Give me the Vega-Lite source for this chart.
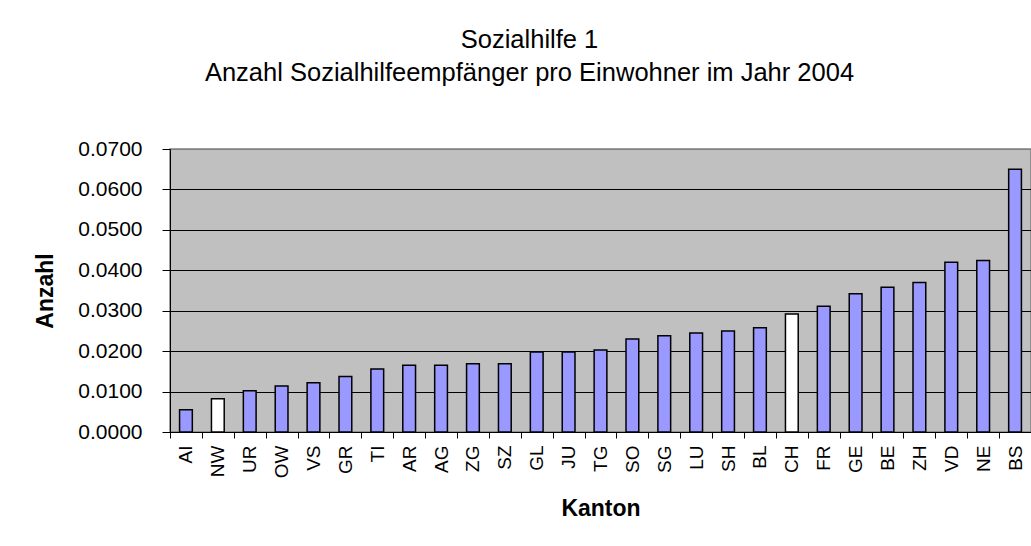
{
  "$schema": "https://vega.github.io/schema/vega-lite/v6.json",
  "autosize": {"type": "none"},
  "padding": {"left": 170, "top": 149, "right": 0, "bottom": 114},
  "width": 861,
  "height": 283,
  "background": "white",
  "title": {
    "text": ["Sozialhilfe 1", "Anzahl Sozialhilfeempfänger pro Einwohner im Jahr 2004"],
    "anchor": "middle",
    "frame": "group",
    "dx": -71,
    "offset": 52,
    "fontSize": 25.5,
    "fontWeight": "normal",
    "lineHeight": 33,
    "color": "#000000",
    "font": "Liberation Sans"
  },
  "data": {
    "values": [
      {"kanton": "AI", "anzahl": 0.0055, "gruppe": "Kanton"},
      {"kanton": "NW", "anzahl": 0.0082, "gruppe": "weiss"},
      {"kanton": "UR", "anzahl": 0.0102, "gruppe": "Kanton"},
      {"kanton": "OW", "anzahl": 0.0114, "gruppe": "Kanton"},
      {"kanton": "VS", "anzahl": 0.0122, "gruppe": "Kanton"},
      {"kanton": "GR", "anzahl": 0.0137, "gruppe": "Kanton"},
      {"kanton": "TI", "anzahl": 0.0156, "gruppe": "Kanton"},
      {"kanton": "AR", "anzahl": 0.0165, "gruppe": "Kanton"},
      {"kanton": "AG", "anzahl": 0.0165, "gruppe": "Kanton"},
      {"kanton": "ZG", "anzahl": 0.0169, "gruppe": "Kanton"},
      {"kanton": "SZ", "anzahl": 0.0169, "gruppe": "Kanton"},
      {"kanton": "GL", "anzahl": 0.0198, "gruppe": "Kanton"},
      {"kanton": "JU", "anzahl": 0.0198, "gruppe": "Kanton"},
      {"kanton": "TG", "anzahl": 0.0203, "gruppe": "Kanton"},
      {"kanton": "SO", "anzahl": 0.0230, "gruppe": "Kanton"},
      {"kanton": "SG", "anzahl": 0.0238, "gruppe": "Kanton"},
      {"kanton": "LU", "anzahl": 0.0245, "gruppe": "Kanton"},
      {"kanton": "SH", "anzahl": 0.0250, "gruppe": "Kanton"},
      {"kanton": "BL", "anzahl": 0.0258, "gruppe": "Kanton"},
      {"kanton": "CH", "anzahl": 0.0292, "gruppe": "weiss"},
      {"kanton": "FR", "anzahl": 0.0311, "gruppe": "Kanton"},
      {"kanton": "GE", "anzahl": 0.0342, "gruppe": "Kanton"},
      {"kanton": "BE", "anzahl": 0.0358, "gruppe": "Kanton"},
      {"kanton": "ZH", "anzahl": 0.0370, "gruppe": "Kanton"},
      {"kanton": "VD", "anzahl": 0.0420, "gruppe": "Kanton"},
      {"kanton": "NE", "anzahl": 0.0424, "gruppe": "Kanton"},
      {"kanton": "BS", "anzahl": 0.0650, "gruppe": "Kanton"}
    ]
  },
  "mark": {"type": "bar", "width": {"band": 0.4}, "stroke": "#000000", "strokeWidth": 1.5},
  "encoding": {
    "x": {
      "field": "kanton",
      "type": "nominal",
      "sort": null,
      "scale": {"paddingInner": 0, "paddingOuter": 0},
      "axis": {
        "title": "Kanton",
        "titleFontSize": 23,
        "titleFontWeight": "bold",
        "titlePadding": 20,
        "labelAngle": -90,
        "labelFontSize": 19,
        "labelPadding": 7,
        "tickBand": "extent",
        "tickSize": 6,
        "tickColor": "#000000",
        "domainColor": "#000000",
        "labelColor": "#000000",
        "titleColor": "#000000"
      }
    },
    "y": {
      "field": "anzahl",
      "type": "quantitative",
      "scale": {"domain": [0, 0.07], "nice": false},
      "axis": {
        "title": "Anzahl",
        "titleFontSize": 23,
        "titleFontWeight": "bold",
        "titlePadding": 20,
        "values": [0, 0.01, 0.02, 0.03, 0.04, 0.05, 0.06, 0.07],
        "format": ".4f",
        "labelFontSize": 21,
        "labelPadding": 20,
        "tickSize": 8,
        "tickColor": "#000000",
        "domainColor": "#000000",
        "labelColor": "#000000",
        "titleColor": "#000000",
        "grid": true,
        "gridColor": {"condition": {"test": "datum.value >= 0.07", "value": "#808080"}, "value": "#000000"},
        "gridWidth": 1.2
      }
    },
    "fill": {
      "field": "gruppe",
      "type": "nominal",
      "scale": {"domain": ["Kanton", "weiss"], "range": ["#9999FF", "#FFFFFF"]},
      "legend": null
    }
  },
  "config": {
    "font": "Liberation Sans",
    "view": {"fill": "#C0C0C0", "stroke": "#808080", "strokeWidth": 1.5},
    "axis": {"labelFont": "Liberation Sans", "titleFont": "Liberation Sans"}
  }
}
